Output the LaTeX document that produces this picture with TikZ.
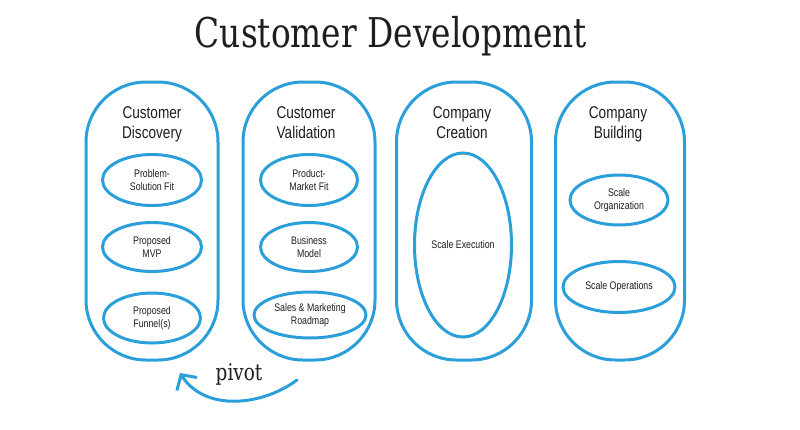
\documentclass[tikz,border=0pt]{standalone}
\usepackage{fontspec}
\usetikzlibrary{shapes.geometric,arrows.meta}
\newfontfamily\condsans[FakeStretch=0.8]{Liberation Sans}
\newfontfamily\slabserif[FakeStretch=0.8]{DejaVu Serif}
\definecolor{sketchblue}{HTML}{2B9FD9}
\definecolor{inkblack}{HTML}{1E1E1E}
\tikzset{
  stagebox/.style={draw=sketchblue, line width=3pt, rounded corners=60pt, inner sep=0pt},
  stagetitle/.style={font=\condsans\fontsize{17}{20}\selectfont, text=inkblack, align=center, inner sep=0pt},
  activity/.style={ellipse, draw=sketchblue, line width=3pt, inner sep=0pt, align=center,
     font=\condsans\fontsize{11}{12.5}\selectfont, text=inkblack},
  pivotarrow/.style={draw=sketchblue, line width=3pt, line cap=round, -{Straight Barb[length=11pt,width=24pt,line width=3pt]}}
}
\begin{document}
\begin{tikzpicture}[x=1pt,y=-1pt]
\useasboundingbox[fill=white] (0,0) rectangle (800,429);
% title
\node[font=\slabserif\fontsize{41}{45}\selectfont, text=inkblack, anchor=base, inner sep=0pt] (title) at (391,47) {Customer Development};
% stage containers
\node[stagebox, minimum width=132pt, minimum height=278pt] (cdisc) at (152,221) {};
\node[stagebox, minimum width=132pt, minimum height=278pt] (cval) at (309,221) {};
\node[stagebox, minimum width=135pt, minimum height=278pt] (ccre) at (464,221) {};
\node[stagebox, minimum width=129pt, minimum height=278pt] (cbld) at (620,221) {};
% stage titles
\node[stagetitle, anchor=base] (tdisc) at (152,138) {Customer\\Discovery};
\node[stagetitle, anchor=base] (tval) at (306,138) {Customer\\Validation};
\node[stagetitle, anchor=base] (tcre) at (462,138) {Company\\Creation};
\node[stagetitle, anchor=base] (tbld) at (618,138) {Company\\Building};
% activities
\node[activity, minimum width=99pt, minimum height=51pt] (psf) at (152,180) {Problem-\\Solution Fit};
\node[activity, minimum width=99pt, minimum height=49pt] (mvp) at (152,247) {Proposed\\MVP};
\node[activity, minimum width=97pt, minimum height=50pt] (fun) at (152,318) {Proposed\\Funnel(s)};
\node[activity, minimum width=97pt, minimum height=51pt] (pmf) at (309,180) {Product-\\Market Fit};
\node[activity, minimum width=97pt, minimum height=49pt] (bm) at (309,247) {Business\\Model};
\node[activity, minimum width=112pt, minimum height=46pt] (smr) at (310,315) {Sales \& Marketing\\Roadmap};
\node[activity, minimum width=97pt, minimum height=184pt] (se) at (463,245) {Scale Execution};
\node[activity, minimum width=98pt, minimum height=50pt] (so) at (619,200) {Scale\\Organization};
\node[activity, minimum width=112pt, minimum height=51pt] (sop) at (619,287) {Scale Operations};
% pivot
\node[font=\slabserif\fontsize{23}{26}\selectfont, text=inkblack, anchor=base, inner sep=0pt] (pivot) at (239,380) {pivot};
\coordinate (pstart) at (297,380);
\coordinate (ptip) at (180,373);
\draw[pivotarrow] (pstart) .. controls (262,406) and (205,412) .. (ptip);
\end{tikzpicture}
\end{document}
